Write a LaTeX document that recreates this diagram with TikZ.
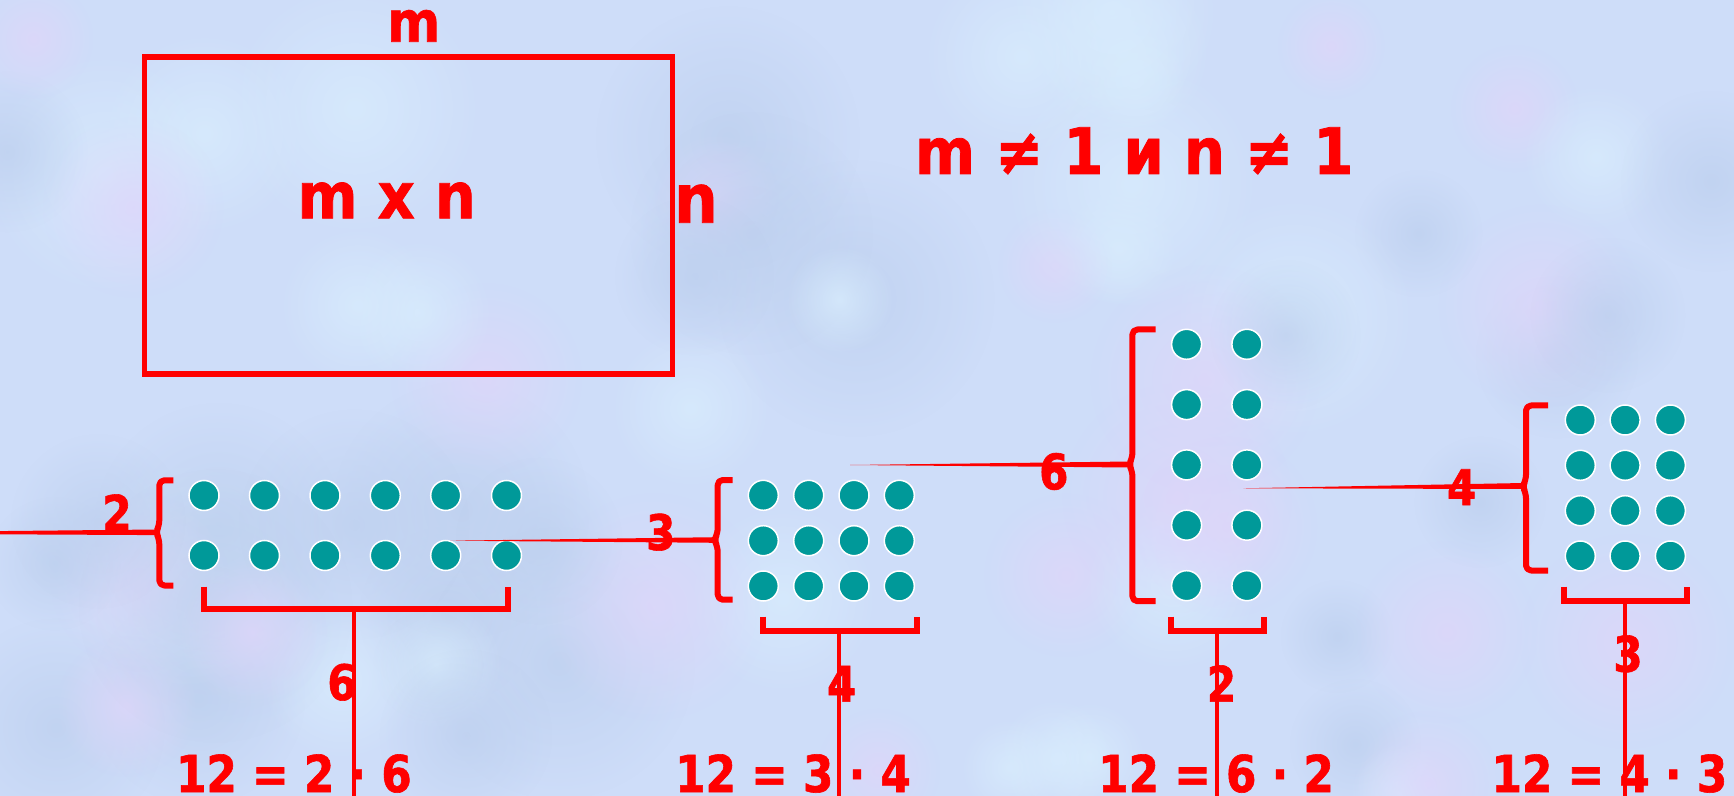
\documentclass[tikz,border=0pt]{standalone}
\usepackage{fontspec}
\usetikzlibrary{calc,fadings}
\newfontfamily\eqfont{DejaVu Sans}[FakeStretch=0.86,FakeBold=1.2]
\newfontfamily\bigfont{DejaVu Sans}[FakeStretch=0.9,FakeBold=1.2]
\definecolor{bgc}{RGB}{206,221,249}
\definecolor{bgl}{RGB}{216,236,253}
\definecolor{bgv}{RGB}{222,214,250}
\definecolor{bgd}{RGB}{188,207,238}
\definecolor{teal}{RGB}{0,153,153}
\definecolor{rd}{RGB}{255,0,0}
\tikzfading[name=softblob, inner color=transparent!0, outer color=transparent!100]
\tikzset{
  dot/.style={circle,fill=teal,draw=white,line width=0.75pt,minimum size=15pt,inner sep=0pt},
  brk/.style={draw=rd,line width=3pt,line join=round},
  stem/.style={draw=rd,line width=2pt},
  lbl/.style={text=rd,font=\eqfont\bfseries\fontsize{24.5}{28}\selectfont,inner sep=0pt,anchor=base},
  eqn/.style={text=rd,font=\eqfont\bfseries\fontsize{25.4}{30}\selectfont,inner sep=0pt,anchor=base},
  big/.style={text=rd,inner sep=0pt,anchor=base},
  taper/.style={fill=rd}
}
\newcommand{\leftbrk}[5]{% x, top, bottom, mid, serif x
  \draw[brk,rounded corners=2.5pt] (#5,#2) -- (#1,#2) -- (#1,#4-7) -- (#1-3.5,#4) -- (#1,#4+7) -- (#1,#3) -- (#5,#3);
}
\newcommand{\botbrk}[4]{% x1, x2, y, top of verticals
  \draw[brk,line join=miter] (#1,#4) -- (#1,#3) -- (#2,#3) -- (#2,#4);
}
\begin{document}
\begin{tikzpicture}[x=0.5pt,y=-0.5pt]
\useasboundingbox (0,0) rectangle (1734,796);
\fill[bgc] (0,0) rectangle (1734,796);
% soft mottled background
\begin{scope}
\clip (0,0) rectangle (1734,796);
\pgfmathsetseed{7}
\foreach \k in {1,...,70}{
  \pgfmathsetmacro{\bx}{rnd*1734}
  \pgfmathsetmacro{\by}{rnd*796}
  \pgfmathsetmacro{\br}{50+rnd*90}
  \pgfmathsetmacro{\bc}{int(rnd*3)}
  \ifcase\bc
    \fill[bgl,path fading=softblob,fill opacity=0.8] (\bx,\by) circle (\br);
  \or
    \fill[bgv,path fading=softblob,fill opacity=0.8] (\bx,\by) circle (\br);
  \else
    \fill[bgd,path fading=softblob,fill opacity=0.7] (\bx,\by) circle (\br);
  \fi
}
\end{scope}
% top rectangle
\node[draw=rd,line width=2.85pt,minimum width=264pt,minimum height=158.3pt,inner sep=0pt] (rect) at (408.4,215.6) {};
\node[big,font=\bigfont\bfseries\fontsize{28.3}{32}\selectfont] (mtop) at (413.7,41.7) {m};
\node[big,font=\bigfont\bfseries\fontsize{32}{36}\selectfont] (mxn) at (386.7,218.3) {m x n};
\node[big,font=\bigfont\bfseries\fontsize{34}{38}\selectfont] (nr) at (696,222.7) {n};
\node[big,font=\bigfont\bfseries\fontsize{32}{36}\selectfont] (cond) at (1134.2,174) {m ≠ 1 и n ≠ 1};

% group 1: 2 x 6
\foreach \c [count=\i] in {204,264.5,325,385.3,445.7,506.5}{
  \foreach \r [count=\j] in {495.5,555.5}{
    \node[dot] (a\j\i) at (\c,\r) {};
  }
}
\leftbrk{159.3}{480.3}{585.5}{532.3}{173.3}
\coordinate (a-mid) at (157,532.3);
\coordinate (a-in) at (-2,532.7);
\fill[taper] ($(a-in)+(0,-1.6)$) -- ($(a-mid)+(0,-2.8)$) -- ($(a-mid)+(0,2.8)$) -- ($(a-in)+(0,1.6)$) -- cycle;
\node[lbl] (a-l) at (117,530.7) {2};
\botbrk{204.2}{507.6}{609}{586.5}
\coordinate (a-st) at (354.4,609);
\coordinate (a-bot) at (354.4,800);
\draw[stem] (a-st) -- (a-bot);
\node[lbl] (a-b) at (342,700) {6};
\node[eqn] (a-eq) at (293.9,792) {12 = 2 · 6};

% group 2: 3 x 4
\foreach \c [count=\i] in {763.3,808.7,854,899.3}{
  \foreach \r [count=\j] in {495.3,540.7,586}{
    \node[dot] (b\j\i) at (\c,\r) {};
  }
}
\leftbrk{717.7}{480}{599.7}{540}{732.7}
\coordinate (b-mid) at (715.5,540);
\coordinate (b-in) at (450,540.7);
\fill[taper] (b-in) -- ($(b-mid)+(0,-2.8)$) -- ($(b-mid)+(0,2.8)$) -- cycle;
\node[lbl] (b-l) at (660.8,550) {3};
\botbrk{762.7}{916.7}{631}{616.5}
\coordinate (b-st) at (838.7,631);
\coordinate (b-bot) at (838.7,800);
\draw[stem] (b-st) -- (b-bot);
\node[lbl] (b-b) at (841.7,701.7) {4};
\node[eqn] (b-eq) at (793,792) {12 = 3 · 4};

% group 3: 5 x 2
\foreach \c [count=\i] in {1186.6,1246.9}{
  \foreach \r [count=\j] in {344.3,404.6,464.9,525.2,585.7}{
    \node[dot] (c\j\i) at (\c,\r) {};
  }
}
\leftbrk{1132.4}{329.5}{601.2}{464.5}{1155.6}
\coordinate (c-mid) at (1130,464.5);
\coordinate (c-in) at (850,465);
\fill[taper] (c-in) -- ($(c-mid)+(0,-3)$) -- ($(c-mid)+(0,3)$) -- cycle;
\node[lbl] (c-l) at (1053.8,489.3) {6};
\botbrk{1171}{1263.5}{631}{616.5}
\coordinate (c-st) at (1216.5,631);
\coordinate (c-bot) at (1216.5,800);
\draw[stem] (c-st) -- (c-bot);
\node[lbl] (c-b) at (1221.5,701.7) {2};
\node[eqn] (c-eq) at (1216,792) {12 = 6 · 2};

% group 4: 4 x 3
\foreach \c [count=\i] in {1580.3,1625.1,1670.4}{
  \foreach \r [count=\j] in {420,465.3,510.7,556}{
    \node[dot] (d\j\i) at (\c,\r) {};
  }
}
\leftbrk{1526}{405.5}{570.5}{486.5}{1548}
\coordinate (d-mid) at (1523.5,486);
\coordinate (d-in) at (1243.3,488.3);
\fill[taper] (d-in) -- ($(d-mid)+(0,-3)$) -- ($(d-mid)+(0,3)$) -- cycle;
\node[lbl] (d-l) at (1461.7,505) {4};
\botbrk{1563.7}{1686.5}{601}{586.5}
\coordinate (d-st) at (1624.5,601);
\coordinate (d-bot) at (1624.5,800);
\draw[stem] (d-st) -- (d-bot);
\node[lbl] (d-b) at (1628,671.7) {3};
\node[eqn] (d-eq) at (1609.4,792) {12 = 4 · 3};
\end{tikzpicture}
\end{document}
